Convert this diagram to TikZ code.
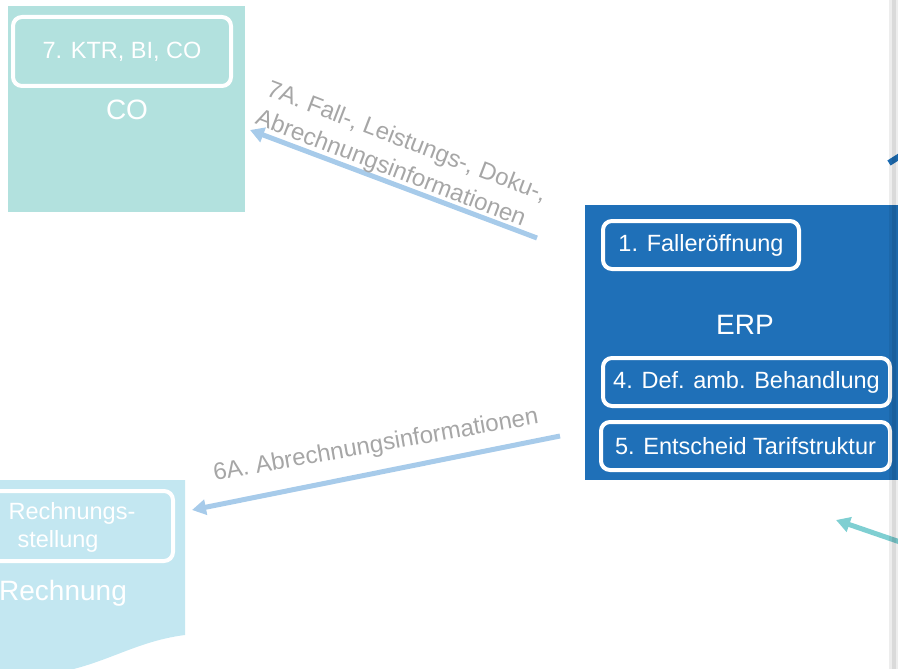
\documentclass[tikz,border=0pt]{standalone}
\usepackage{fontspec}
\setmainfont{Liberation Sans}
\usetikzlibrary{arrows.meta}
\definecolor{cofill}{HTML}{B2E1DE}
\definecolor{erpfill}{HTML}{1F70B8}
\definecolor{rechfill}{HTML}{C3E7F1}
\definecolor{lblgray}{HTML}{A6A6A6}
\definecolor{arrblue}{HTML}{A7CBEA}
\definecolor{arrteal}{HTML}{7FCFD2}
\tikzset{
  sysbox/.style={draw=none, anchor=north west, inner sep=0pt},
  stepbox/.style={draw=white, line width=4pt, rounded corners=9pt, inner sep=0pt, text=white,
    font=\fontsize{23.5}{27}\selectfont},
  systitle/.style={text=white, font=\fontsize{28}{32}\selectfont, inner sep=0pt},
  flowlbl/.style={text=lblgray, font=\fontsize{24}{31}\selectfont, inner sep=0pt},
  flowarrow/.style={line width=5pt, -{Triangle[length=14pt,width=15pt]}},
}
\begin{document}
\begin{tikzpicture}[x=1pt,y=-1pt]
\useasboundingbox (0,0) rectangle (898,669);
% CO system
\node[sysbox, fill=cofill, minimum width=237pt, minimum height=206pt] (co) at (8,6) {};
\node[stepbox, minimum width=218pt, minimum height=69pt] (ktr) at (122,51.5) {7. KTR, BI, CO};
\node[systitle] (cot) at (127,110) {CO};
% ERP system
\node[sysbox, fill=erpfill, minimum width=320pt, minimum height=275pt] (erp) at (585,205) {};
\node[stepbox, minimum width=196pt, minimum height=48pt] (s1) at (701,245) {1. Falleröffnung};
\node[systitle] (erpt) at (745,325) {ERP};
\node[stepbox, minimum width=287pt, minimum height=48pt] (s4) at (746.5,382) {4. Def. amb. Behandlung};
\node[stepbox, minimum width=289pt, minimum height=48pt] (s5) at (745.5,446) {5. Entscheid Tarifstruktur};
% Rechnung document
\fill[rechfill] (-20,480) -- (185,480) -- (185,635) .. controls (130,642) and (100,669) .. (40,675) -- (-20,675) -- cycle;
\node[stepbox, minimum width=233pt, minimum height=70pt] (rs) at (56.5,526) {};
\node[text=white, font=\fontsize{23.5}{27}\selectfont, inner sep=0pt] (rs1) at (72,513) {Rechnungs-};
\node[text=white, font=\fontsize{23.5}{27}\selectfont, inner sep=0pt] (rs2) at (58,541) {stellung};
\node[systitle, anchor=west] (recht) at (-1,593) {Rechnung};
% arrows
\coordinate (a7s) at (537,238);
\coordinate (a7e) at (250,130);
\draw[flowarrow, arrblue] (a7s) -- (a7e);
\coordinate (a6s) at (560,436);
\coordinate (a6e) at (192,510);
\draw[flowarrow, arrblue] (a6s) -- (a6e);
\node[flowlbl, rotate=-21, align=left] (l7) at (401,157) {7A. Fall-, Leistungs-, Doku-,\\Abrechnungsinformationen};
\node[flowlbl, rotate=10] (l6) at (376,446) {6A. Abrechnungsinformationen};
% partial connectors at right edge
\coordinate (tb1) at (889,163);
\coordinate (tb2) at (900,156);
\draw[line width=6pt, erpfill] (tb1) -- (tb2);
\coordinate (tt1) at (900,542);
\coordinate (tt2) at (836,520);
\draw[line width=5pt, arrteal, -{Triangle[length=14pt,width=15pt]}] (tt1) -- (tt2);
% page edge shadow
\fill[black, opacity=0.07] (889,0) rectangle (898,669);
\fill[black, opacity=0.08] (892,0) rectangle (896,669);
\end{tikzpicture}
\end{document}
